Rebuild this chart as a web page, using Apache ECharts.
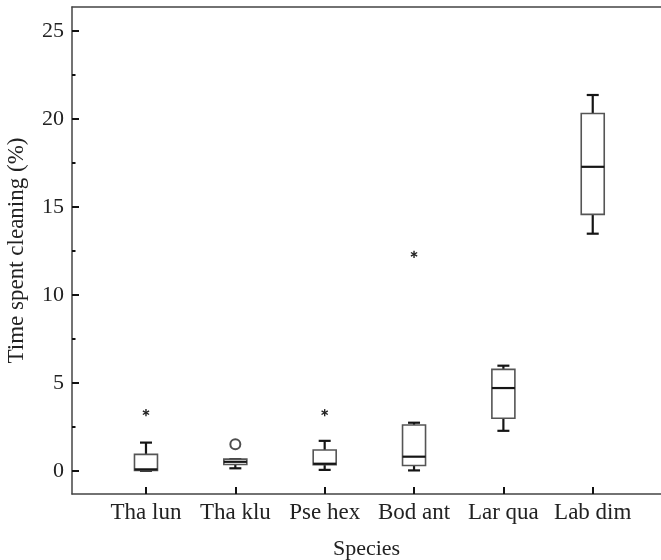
<!DOCTYPE html>
<html>
<head>
<meta charset="utf-8">
<script src="https://cdn.jsdelivr.net/npm/echarts@6/dist/echarts.min.js"></script>
<style>
  html, body { margin: 0; padding: 0; background: #fff; }
  #chart { width: 661px; height: 560px; }
</style>
</head>
<body>
<div id="chart"></div>
<script>
// species on the x axis (placed at 1..6)
const species = ['Tha lun', 'Tha klu', 'Pse hex', 'Bod ant', 'Lar qua', 'Lab dim'];
const whiskerLow  = [0.0,  0.14, 0.05, 0.02, 2.27, 13.47];
const q1          = [0.02, 0.36, 0.35, 0.30, 2.98, 14.57];
const median      = [0.08, 0.51, 0.40, 0.80, 4.70, 17.27];
const q3          = [0.93, 0.66, 1.18, 2.60, 5.76, 20.30];
const whiskerHigh = [1.60, 0.66, 1.70, 2.73, 5.97, 21.35];
// extreme values (asterisks) and outliers (circles): [species index, value]
const extremes = [[1, 3.3], [3, 3.3], [4, 12.3]];
const outliers = [[2, 1.5]];
// tick labels
const yMajorTicks = [0, 5, 10, 15, 20, 25];
const yMinorTicks = [2.5, 7.5, 12.5, 17.5, 22.5];
const xTicks = [1, 2, 3, 4, 5, 6];

const FONT = '"Liberation Serif", "DejaVu Serif", serif';
const X_MIN = 0.172, X_MAX = 6.764;
const Y_MIN = -1.32, Y_MAX = 26.35;

const boxData = species.map((s, i) => [i + 1, whiskerLow[i], q1[i], median[i], q3[i], whiskerHigh[i]]);

function renderBox(params, api) {
    const x = api.value(0);
    const pLow = api.coord([x, api.value(1)]);
    const pQ1 = api.coord([x, api.value(2)]);
    const pMed = api.coord([x, api.value(3)]);
    const pQ3 = api.coord([x, api.value(4)]);
    const pHigh = api.coord([x, api.value(5)]);
    const cx = pMed[0];
    const half = 11.5, cap = 6;
    const black = { stroke: '#151515', lineWidth: 2.2 };
    return {
        type: 'group',
        children: [
            { type: 'line', shape: { x1: cx, y1: pLow[1], x2: cx, y2: pQ1[1] }, style: black },
            { type: 'line', shape: { x1: cx, y1: pQ3[1], x2: cx, y2: pHigh[1] }, style: black },
            { type: 'line', shape: { x1: cx - cap, y1: pLow[1], x2: cx + cap, y2: pLow[1] }, style: black },
            { type: 'line', shape: { x1: cx - cap, y1: pHigh[1], x2: cx + cap, y2: pHigh[1] }, style: black },
            { type: 'rect', shape: { x: cx - half, y: pQ3[1], width: half * 2, height: pQ1[1] - pQ3[1] },
              style: { fill: '#fff', stroke: '#555', lineWidth: 1.6 } },
            { type: 'line', shape: { x1: cx - half, y1: pMed[1], x2: cx + half, y2: pMed[1] }, style: black }
        ]
    };
}

function renderStar(params, api) {
    const p = api.coord([api.value(0), api.value(1)]);
    const r = 3.6;
    const st = { stroke: '#222', lineWidth: 1.4 };
    const c = Math.cos(Math.PI / 6) * r, s = Math.sin(Math.PI / 6) * r;
    return {
        type: 'group',
        children: [
            { type: 'line', shape: { x1: p[0], y1: p[1] - r, x2: p[0], y2: p[1] + r }, style: st },
            { type: 'line', shape: { x1: p[0] - c, y1: p[1] - s, x2: p[0] + c, y2: p[1] + s }, style: st },
            { type: 'line', shape: { x1: p[0] - c, y1: p[1] + s, x2: p[0] + c, y2: p[1] - s }, style: st }
        ]
    };
}

const chart = echarts.init(document.getElementById('chart'));
chart.setOption({
    animation: false,
    backgroundColor: '#fff',
    grid: { left: 72, top: 7, bottom: 66, right: 0, outerBoundsMode: 'none', containLabel: false },
    xAxis: [{
        type: 'value',
        min: X_MIN,
        max: X_MAX,
        name: 'Species',
        nameLocation: 'middle',
        nameGap: 44,
        nameTextStyle: { fontFamily: FONT, fontSize: 22, color: '#222' },
        axisLine: { onZero: false, lineStyle: { color: '#444', width: 1.5 } },
        splitLine: { show: false },
        axisTick: { inside: true, length: 7, customValues: xTicks, lineStyle: { color: '#111', width: 2 } },
        axisLabel: {
            customValues: xTicks,
            formatter: v => species[Math.round(v) - 1],
            fontFamily: FONT, fontSize: 23, color: '#222', margin: 7
        }
    }, {
        // top frame line only
        type: 'value',
        position: 'top',
        min: X_MIN,
        max: X_MAX,
        axisLine: { show: true, onZero: false, lineStyle: { color: '#444', width: 1.5 } },
        axisTick: { show: false },
        axisLabel: { show: false },
        splitLine: { show: false }
    }],
    yAxis: [{
        type: 'value',
        position: 'left',
        min: Y_MIN,
        max: Y_MAX,
        name: 'Time spent cleaning (%)',
        nameLocation: 'middle',
        nameGap: 44,
        nameTextStyle: { fontFamily: FONT, fontSize: 23, color: '#222' },
        axisLine: { show: true, onZero: false, lineStyle: { color: '#444', width: 1.5 } },
        splitLine: { show: false },
        axisTick: { inside: true, length: 7, customValues: yMajorTicks, lineStyle: { color: '#111', width: 2 } },
        axisLabel: { customValues: yMajorTicks, fontFamily: FONT, fontSize: 22, color: '#222', margin: 8 }
    }, {
        type: 'value',
        position: 'left',
        offset: 0,
        min: Y_MIN,
        max: Y_MAX,
        axisLine: { show: false },
        splitLine: { show: false },
        axisLabel: { show: false },
        axisTick: { inside: true, length: 3.5, customValues: yMinorTicks, lineStyle: { color: '#111', width: 2 } }
    }],
    series: [{
        type: 'custom',
        renderItem: renderBox,
        encode: { x: 0, y: [1, 2, 3, 4, 5] },
        data: boxData,
        z: 3
    }, {
        type: 'custom',
        renderItem: renderStar,
        encode: { x: 0, y: 1 },
        data: extremes,
        z: 3
    }, {
        type: 'scatter',
        data: outliers,
        symbol: 'emptyCircle',
        symbolSize: 10,
        itemStyle: { color: '#222', borderColor: '#222', borderWidth: 1.3 },
        z: 3
    }]
});
</script>
</body>
</html>
